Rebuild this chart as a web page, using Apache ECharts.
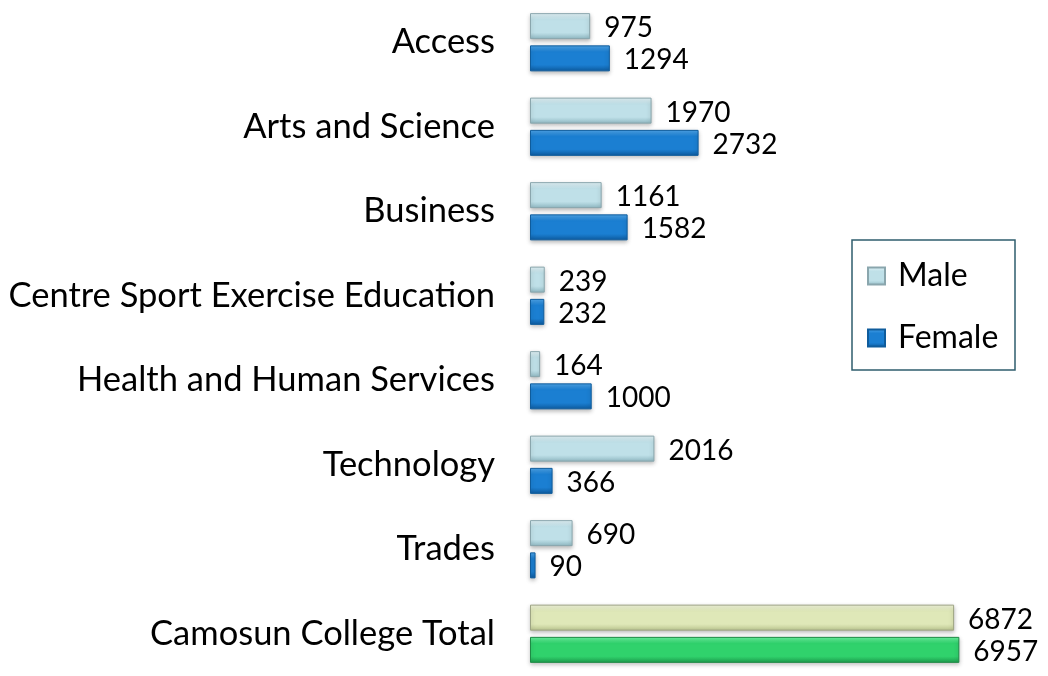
<!DOCTYPE html>
<html>
<head>
<meta charset="utf-8">
<script src="https://cdn.jsdelivr.net/npm/echarts@6/dist/echarts.min.js"></script>
<style>
  html, body { margin: 0; padding: 0; background: #fff; }
  #chart { width: 1048px; height: 676px; }
</style>
</head>
<body>
<div id="chart"></div>
<script>
// categories, top to bottom
var categories = ['Access', 'Arts and Science', 'Business', 'Centre Sport Exercise Education',
  'Health and Human Services', 'Technology', 'Trades', 'Camosun College Total'];
var maleValues = [975, 1970, 1161, 239, 164, 2016, 690, 6872];
var femaleValues = [1294, 2732, 1582, 232, 1000, 366, 90, 6957];

var font = 'Lato';

function grad(top, mid, bottom) {
  return new echarts.graphic.LinearGradient(0, 0, 0, 1, [
    { offset: 0, color: top },
    { offset: 0.25, color: mid },
    { offset: 0.75, color: mid },
    { offset: 1, color: bottom }
  ]);
}

var shadow = { shadowColor: 'rgba(0,0,0,0.25)', shadowBlur: 4, shadowOffsetY: 2 };
var maleStyle = Object.assign({ color: grad('#e4f4f8', '#bfe0e8', '#8fb8c2'), borderColor: '#8aa6ad', borderWidth: 1 }, shadow);
var femaleStyle = Object.assign({ color: grad('#4fa6ea', '#1b7fd2', '#0d5a9e'), borderColor: '#0f5c9c', borderWidth: 1 }, shadow);
var maleTotalStyle = Object.assign({ color: grad('#f2f6dc', '#dfe8b8', '#b9c48e'), borderColor: '#9ea584', borderWidth: 1 }, shadow);
var femaleTotalStyle = Object.assign({ color: grad('#6cf5a2', '#30d26c', '#1c9a4c'), borderColor: '#1f8a45', borderWidth: 1 }, shadow);

// the total row has its own colours
function build(values, normal, total) {
  return values.map(function (v, i) {
    return { value: v, itemStyle: i === values.length - 1 ? total : normal };
  });
}

var chart = echarts.init(document.getElementById('chart'));

var valueLabel = { show: true, position: 'right', distance: 14, fontFamily: font, fontSize: 28, color: '#000', offset: [0, 2] };

var option = {
  backgroundColor: '#fff',
  animation: false,
  grid: { left: 530, right: 86, top: -2, height: 688, containLabel: false },
  legend: {
    orient: 'vertical',
    left: 867,
    top: 259,
    icon: 'rect',
    itemWidth: 17,
    itemHeight: 17,
    itemGap: 28,
    padding: 0,
    textStyle: { fontFamily: font, fontSize: 32, lineHeight: 34, color: '#000', padding: [0, 0, 0, 8] },
    data: ['Male', 'Female']
  },
  graphic: [{
    type: 'rect',
    shape: { x: 852, y: 240, width: 163, height: 130 },
    style: { fill: 'none', stroke: '#2f5e6e', lineWidth: 1.5 }
  }],
  xAxis: {
    type: 'value',
    min: 0,
    max: 7000,
    show: false
  },
  yAxis: {
    type: 'category',
    inverse: true,
    data: categories,
    axisLine: { show: false },
    axisTick: { show: false },
    axisLabel: { fontFamily: font, fontSize: 34.5, color: '#000', margin: 35 }
  },
  series: [
    {
      name: 'Male',
      type: 'bar',
      barWidth: 26,
      barGap: '24%',
      itemStyle: maleStyle,
      label: valueLabel,
      data: build(maleValues, maleStyle, maleTotalStyle)
    },
    {
      name: 'Female',
      type: 'bar',
      barWidth: 26,
      itemStyle: femaleStyle,
      label: valueLabel,
      data: build(femaleValues, femaleStyle, femaleTotalStyle)
    }
  ]
};

chart.setOption(option);
</script>
</body>
</html>
